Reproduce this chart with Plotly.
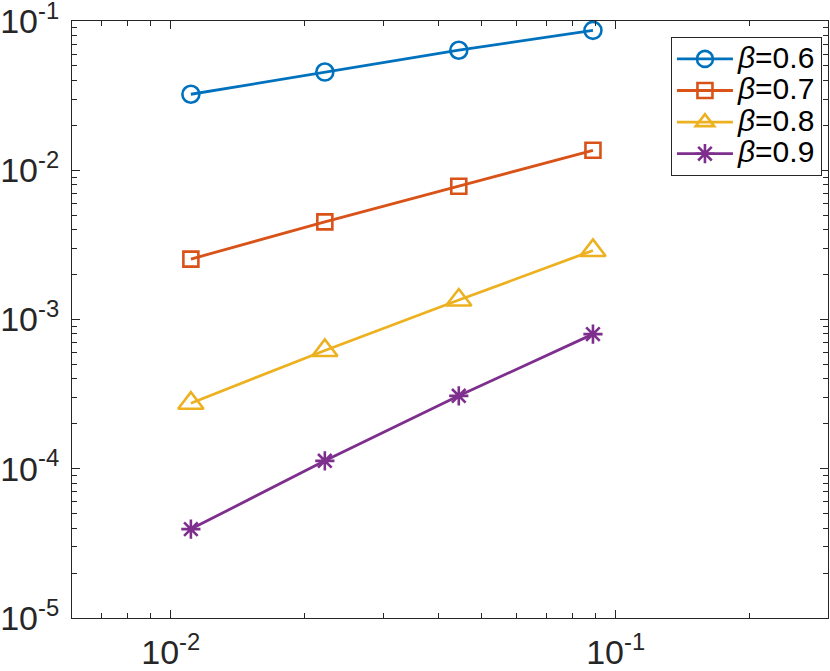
import numpy as np
import plotly.graph_objects as go

h = [0.0111, 0.0222, 0.0444, 0.0889]
labels = ["<i>β</i>=0.6", "<i>β</i>=0.7", "<i>β</i>=0.8", "<i>β</i>=0.9"]
err_06 = [0.0323, 0.0455, 0.0637, 0.0866]
err_07 = [0.00254, 0.00451, 0.00782, 0.0136]
err_08 = [2.75e-4, 6.2e-4, 1.35e-3, 2.9e-3]
err_09 = [3.94e-5, 1.13e-4, 3.08e-4, 7.98e-4]

series = [err_06, err_07, err_08, err_09]
colors = ["#0072BD", "#D95319", "#EDB120", "#7E2F8E"]
symbols = ["circle-open", "square-open", "triangle-up-open", "asterisk-open"]
sizes = [17, 15, 22, 16]

x_major = [0.01, 0.1]
x_major_text = ["10<sup>-2</sup>", "10<sup>-1</sup>"]
y_major = [1e-5, 1e-4, 1e-3, 1e-2, 1e-1]
y_major_text = ["10<sup>-5</sup>", "10<sup>-4</sup>", "10<sup>-3</sup>", "10<sup>-2</sup>", "10<sup>-1</sup>"]

fig = go.Figure()
for ys, lb, c, s, sz in zip(series, labels, colors, symbols, sizes):
    fig.add_trace(go.Scatter(
        x=h, y=ys, name="<span style='font-size:30px'>" + lb + "</span>",
        mode="lines+markers",
        line=dict(color=c, width=2.8),
        marker=dict(symbol=s, size=sz, color=c, line=dict(color=c, width=2.6)),
    ))

fam = "Liberation Sans, Arial, Helvetica, sans-serif"
ink = "#262626"

x_minor = [m * 10.0**e for e in (-3, -2, -1) for m in range(2, 10)]
y_minor = [m * 10.0**e for e in (-6, -5, -4, -3, -2) for m in range(2, 10)]

axis_common = dict(
    type="log", showgrid=False, zeroline=False, automargin=False,
    showline=True, linecolor=ink, linewidth=1, mirror="ticks",
    ticks="inside", ticklen=8, tickwidth=1, tickcolor=ink,
    tickfont=dict(size=34, family=fam, color=ink), tickmode="array",
    ticklabeloverflow="allow",
)

fig.update_xaxes(
    range=[np.log10(0.006), np.log10(0.3)],
    tickvals=x_major, ticktext=x_major_text,
    ticklabelstandoff=4,
    minor=dict(ticks="inside", ticklen=5, tickwidth=1, tickcolor=ink,
               tickmode="array", tickvals=x_minor, showgrid=False),
    **axis_common,
)
fig.update_yaxes(
    range=[-5.00001, -0.99999],
    tickvals=y_major, ticktext=y_major_text,
    ticklabelstandoff=5,
    minor=dict(ticks="inside", ticklen=5, tickwidth=1, tickcolor=ink,
               tickmode="array", tickvals=y_minor, showgrid=False),
    **axis_common,
)

fig.update_layout(
    width=830, height=671,
    margin=dict(l=72, r=2, t=21, b=53),
    paper_bgcolor="white", plot_bgcolor="white",
    font=dict(family=fam, color=ink, size=24),
    showlegend=True,
    legend=dict(
        x=0.992, y=0.973, xanchor="right", yanchor="top",
        bgcolor="white", bordercolor=ink, borderwidth=1,
        font=dict(size=22, family=fam, color="#000000"), itemwidth=56, tracegroupgap=0,
    ),
)

fig.write_html("out.html", config={"displayModeBar": False},
               post_script="document.body.style.margin='0';")
